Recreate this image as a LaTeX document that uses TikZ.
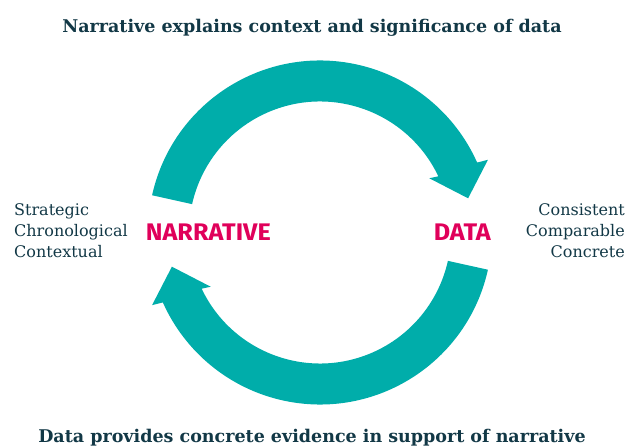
\documentclass[tikz,border=0pt]{standalone}
\usepackage{fontspec}
\setmainfont{DejaVu Serif}
\newfontfamily\keyfont[FakeStretch=1.05]{Fira Sans}
\definecolor{loopteal}{HTML}{00ADAA}
\definecolor{keyred}{HTML}{E0005A}
\definecolor{inkblue}{HTML}{123846}
\tikzset{
  heading/.style={text=inkblue, font=\fontsize{17.5bp}{20bp}\selectfont\bfseries, inner sep=0pt},
  side/.style={text=inkblue, font=\fontsize{16bp}{18bp}\selectfont, inner sep=0pt},
  keyword/.style={text=keyred, font=\fontsize{24bp}{27bp}\selectfont\keyfont\bfseries, inner sep=0pt}
}
\begin{document}
\begin{tikzpicture}[x=1bp, y=1bp]
            \useasboundingbox (-320,-214.5) rectangle (308,232.5);
            % the two curved arrows, one turned half round
            \foreach \turn in {0,180}
              \fill[loopteal, rotate=\turn] (167.5:172) arc[start angle=167.5, end angle=24, radius=172]
                -- (23.4:183) -- (13:152) -- (26.4:122) -- (25.4:131)
                arc[start angle=25.4, end angle=167.5, radius=131] -- cycle;
            \node[keyword, anchor=base west] (narrative) at (-174.3,-8.5) {NARRATIVE};
            \node[keyword, anchor=base east] (data) at (171,-8.5) {DATA};
            \node[heading, anchor=base] (top) at (-8,200.2) {Narrative explains context and significance of data};
            \node[heading, anchor=base] (bottom) at (-8,-210.5) {Data provides concrete evidence in support of narrative};
            \foreach \w [count=\i] in {Strategic,Chronological,Contextual}
              \node[side, anchor=base west] (left\i) at (-306,{16.5-21*(\i-1)}) {\w};
            \foreach \w [count=\i] in {Consistent,Comparable,Concrete}
              \node[side, anchor=base east] (right\i) at (305,{16.5-21*(\i-1)}) {\w};
        \end{tikzpicture}
\end{document}
